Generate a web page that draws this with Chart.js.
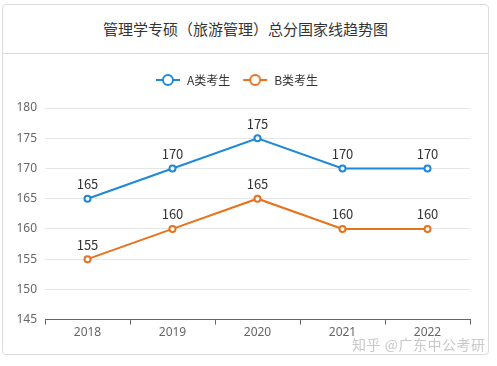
<!DOCTYPE html>
<html lang="zh">
<head>
  <meta charset="UTF-8">
  <title>管理学专硕（旅游管理）总分国家线趋势图</title>
  <style>
    body {
      margin: 0;
      background: #fff;
      font-family: "Noto Sans CJK SC", "Noto Sans", sans-serif;
    }
    .card {
      position: absolute;
      left: 2px;
      top: 4px;
      width: 485px;
      height: 349px;
      border: 1px solid #dcdcdc;
      border-radius: 4px;
      background: #fff;
    }
    .title {
      height: 48px;
      line-height: 48px;
      text-align: center;
      font-size: 15px;
      color: #333;
      border-bottom: 1px solid #dcdcdc;
    }
    .chart-box {
      position: absolute;
      left: 0;
      top: 49px;
      width: 485px;
      height: 300px;
    }
    .mark {
      position: absolute;
      left: 352px;
      top: 334px;
      font-size: 14px;
      color: #c8c8c8;
      letter-spacing: 0.5px;
    }
  </style>
</head>
<body>
  <div class="card">
    <div class="title">管理学专硕（旅游管理）总分国家线趋势图</div>
    <div class="chart-box"><canvas id="trend"></canvas></div>
  </div>
  <div class="mark">知乎 @广东中公考研</div>

  <script src="https://cdn.jsdelivr.net/npm/chart.js"></script>
  <script>
    // data
    const years = ['2018', '2019', '2020', '2021', '2022'];
    const seriesA = [165, 170, 175, 170, 170];
    const seriesB = [155, 160, 165, 160, 160];
    const seriesNames = ['A类考生', 'B类考生'];
    const blue = '#1f88d9';
    const orange = '#e8721d';

    // legend icon: short line with a hollow circle
    function legendIcon(color) {
      const c = document.createElement('canvas');
      c.width = 26; c.height = 14;
      const g = c.getContext('2d');
      g.strokeStyle = color;
      g.lineWidth = 2;
      g.beginPath();
      g.moveTo(1, 7); g.lineTo(25, 7);
      g.stroke();
      g.fillStyle = '#fff';
      g.beginPath();
      g.arc(13, 7, 5, 0, Math.PI * 2);
      g.fill();
      g.stroke();
      return c;
    }

    // draws the value above each point
    const valueLabels = {
      id: 'valueLabels',
      afterDatasetsDraw(chart) {
        const ctx = chart.ctx;
        ctx.save();
        ctx.font = '13px "Noto Sans CJK SC", "Noto Sans", sans-serif';
        ctx.fillStyle = '#333';
        ctx.textAlign = 'center';
        ctx.textBaseline = 'bottom';
        chart.data.datasets.forEach((ds, i) => {
          chart.getDatasetMeta(i).data.forEach((pt, j) => {
            ctx.fillText(ds.data[j], pt.x, pt.y - 8);
          });
        });
        ctx.restore();
      }
    };

    // extra space under the legend
    const legendGap = {
      id: 'legendGap',
      beforeInit(chart) {
        const fit = chart.legend.fit;
        chart.legend.fit = function () {
          fit.bind(chart.legend)();
          this.height += 12;
        };
      }
    };

    const ctx = document.getElementById('trend').getContext('2d');
    new Chart(ctx, {
      type: 'line',
      data: {
        labels: years,
        datasets: [{
          label: seriesNames[0],
          data: seriesA,
          borderColor: blue,
          backgroundColor: '#fff',
          borderWidth: 2,
          pointRadius: 3,
          pointBorderWidth: 2,
          pointBackgroundColor: '#fff',
          pointBorderColor: blue
        }, {
          label: seriesNames[1],
          data: seriesB,
          borderColor: orange,
          backgroundColor: '#fff',
          borderWidth: 2,
          pointRadius: 3,
          pointBorderWidth: 2,
          pointBackgroundColor: '#fff',
          pointBorderColor: orange
        }]
      },
      options: {
        responsive: true,
        maintainAspectRatio: false,
        animation: false,
        layout: { padding: { top: 8, right: 18, bottom: 13, left: 0 } },
        plugins: {
          tooltip: { enabled: false },
          legend: {
            labels: {
              usePointStyle: true,
              pointStyleWidth: 26,
              padding: 12,
              color: '#333',
              font: { size: 12, family: '"Noto Sans CJK SC", "Noto Sans", sans-serif' },
              generateLabels(chart) {
                return chart.data.datasets.map((ds, i) => ({
                  text: ds.label,
                  pointStyle: legendIcon(ds.borderColor),
                  fontColor: '#333',
                  datasetIndex: i,
                  hidden: false,
                  lineWidth: 0
                }));
              }
            }
          }
        },
        scales: {
          x: {
            offset: true,
            grid: {
              offset: true,
              drawOnChartArea: false,
              drawTicks: true,
              tickLength: 5,
              color: '#666'
            },
            border: { color: '#666' },
            ticks: {
              color: '#666',
              padding: 1,
              font: { size: 12, family: '"Noto Sans", sans-serif' }
            }
          },
          y: {
            min: 145,
            max: 180,
            afterFit(scale) { scale.width = 42; },
            grid: { color: '#e6e6e6', drawTicks: false },
            border: { display: false },
            ticks: {
              stepSize: 5,
              padding: 8,
              color: '#666',
              font: { size: 12, family: '"Noto Sans", sans-serif' }
            }
          }
        }
      },
      plugins: [valueLabels, legendGap]
    });
  </script>
</body>
</html>
